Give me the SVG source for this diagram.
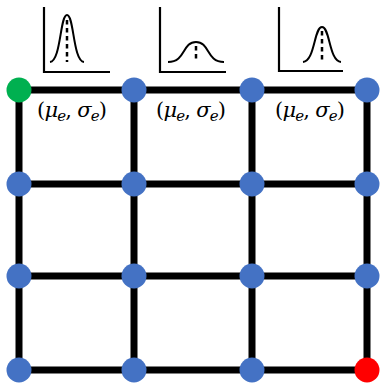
<svg xmlns="http://www.w3.org/2000/svg" width="380" height="384" viewBox="0 0 380 384">
<style>
.edge{stroke:#000;stroke-width:7;fill:none}
.axis{stroke:#000;stroke-width:2.2;fill:none}
.curve{stroke:#000;stroke-width:2;fill:none}
.dash{stroke:#000;stroke-width:2.5;stroke-dasharray:4.5,3.5;fill:none}
.node{fill:#4472C4}
.lbl{font-family:"DejaVu Serif","Liberation Serif",serif;font-size:21px;fill:#000}
.it{font-style:italic}
.sub{font-style:italic;font-size:15px}
</style>
<rect width="380" height="384" fill="#fff"/>
<g id="connectors">
<line class="edge" x1="19" y1="90" x2="367" y2="90"/>
<line class="edge" x1="19" y1="184" x2="367" y2="184"/>
<line class="edge" x1="19" y1="276" x2="367" y2="276"/>
<line class="edge" x1="19" y1="370" x2="367" y2="370"/>
<line class="edge" x1="19" y1="90" x2="19" y2="370"/>
<line class="edge" x1="134" y1="90" x2="134" y2="370"/>
<line class="edge" x1="252" y1="90" x2="252" y2="370"/>
<line class="edge" x1="367" y1="90" x2="367" y2="370"/>
</g>
<g id="plot1">
<path class="axis" d="M44,7 V72 H110"/>
<path class="curve" d="M50,62 C61,61 60,15 67,15 C74,15 73,61 84,62"/>
<line class="dash" x1="67" y1="20" x2="67" y2="62"/>
</g>
<g id="plot2">
<path class="axis" d="M160,7 V72 H226"/>
<path class="curve" d="M168,62 C186,62 182,42 196,42 C210,42 206,62 224,62"/>
<line class="dash" x1="196" y1="46" x2="196" y2="62"/>
</g>
<g id="plot3">
<path class="axis" d="M279,7 V71 H343"/>
<path class="curve" d="M303,62 C315,61 314,27 322,27 C330,27 329,61 341,62"/>
<line class="dash" x1="322" y1="31" x2="322" y2="62"/>
</g>
<g id="label1"><text class="lbl" x="37" y="117" textLength="70" lengthAdjust="spacing">(<tspan class="it">μ</tspan><tspan class="sub" dy="4">e</tspan><tspan dy="-4">, </tspan><tspan class="it">σ</tspan><tspan class="sub" dy="4">e</tspan><tspan dy="-4">)</tspan></text></g>
<g id="label2"><text class="lbl" x="156" y="117" textLength="70" lengthAdjust="spacing">(<tspan class="it">μ</tspan><tspan class="sub" dy="4">e</tspan><tspan dy="-4">, </tspan><tspan class="it">σ</tspan><tspan class="sub" dy="4">e</tspan><tspan dy="-4">)</tspan></text></g>
<g id="label3"><text class="lbl" x="275" y="117" textLength="70" lengthAdjust="spacing">(<tspan class="it">μ</tspan><tspan class="sub" dy="4">e</tspan><tspan dy="-4">, </tspan><tspan class="it">σ</tspan><tspan class="sub" dy="4">e</tspan><tspan dy="-4">)</tspan></text></g>
<g id="n00"><circle cx="19" cy="90" r="12.5" fill="#00B050"/></g>
<g id="n01"><circle class="node" cx="134" cy="90" r="12.5"/></g>
<g id="n02"><circle class="node" cx="252" cy="90" r="12.5"/></g>
<g id="n03"><circle class="node" cx="367" cy="90" r="12.5"/></g>
<g id="n10"><circle class="node" cx="19" cy="184" r="12.5"/></g>
<g id="n11"><circle class="node" cx="134" cy="184" r="12.5"/></g>
<g id="n12"><circle class="node" cx="252" cy="184" r="12.5"/></g>
<g id="n13"><circle class="node" cx="367" cy="184" r="12.5"/></g>
<g id="n20"><circle class="node" cx="19" cy="276" r="12.5"/></g>
<g id="n21"><circle class="node" cx="134" cy="276" r="12.5"/></g>
<g id="n22"><circle class="node" cx="252" cy="276" r="12.5"/></g>
<g id="n23"><circle class="node" cx="367" cy="276" r="12.5"/></g>
<g id="n30"><circle class="node" cx="19" cy="370" r="12.5"/></g>
<g id="n31"><circle class="node" cx="134" cy="370" r="12.5"/></g>
<g id="n32"><circle class="node" cx="252" cy="370" r="12.5"/></g>
<g id="n33"><circle cx="367" cy="370" r="12.5" fill="#FF0000"/></g>
</svg>
